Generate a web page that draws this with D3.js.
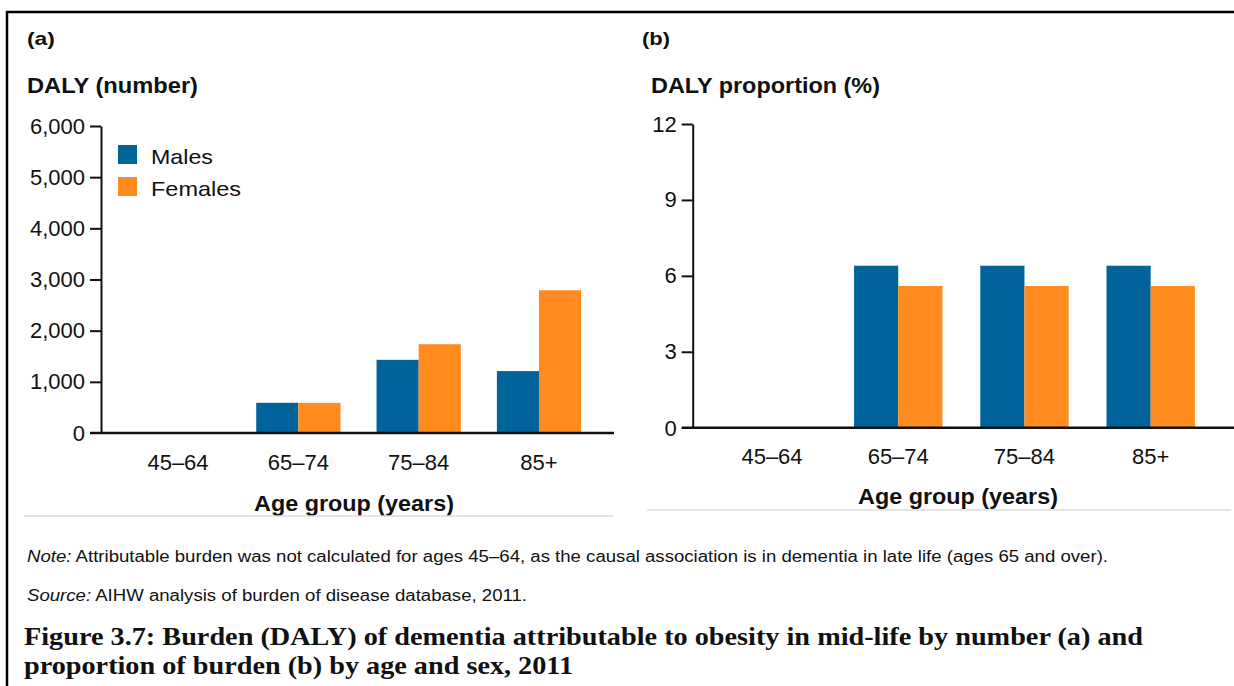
<!DOCTYPE html>
<html>
<head>
<meta charset="utf-8">
<script src="https://cdnjs.cloudflare.com/ajax/libs/d3/7.8.5/d3.min.js"></script>
<style>
  body { margin: 0; background: #fff; }
  text { font-family: "Liberation Sans", Arial, sans-serif; fill: #111; }
  .caption { font-family: "Liberation Serif", "Times New Roman", serif; font-weight: bold; }
</style>
</head>
<body>
<script>
// data
let ageGroups = ["45–64", "65–74", "75–84", "85+"];
let sexes = ["Males", "Females"];
let dalyMales = [0, 590, 1430, 1210];
let dalyFemales = [0, 590, 1735, 2790];
let propMales = [0, 6.4, 6.4, 6.4];
let propFemales = [0, 5.6, 5.6, 5.6];
let dalyTicks = [0, 1000, 2000, 3000, 4000, 5000, 6000];
let propTicks = [0, 3, 6, 9, 12];

let colors = {Males: "#00649a", Females: "#ff8b1e"};

let W = 1234, H = 686;

let svg = d3.select("body").append("svg")
    .attr("width", W)
    .attr("height", H);

// the source image is a bit wider than the fonts, so stretch some texts
function fit(sel, w) {
    sel.attr("textLength", w).attr("lengthAdjust", "spacingAndGlyphs");
    return sel;
}

// frame lines (top and left)
svg.append("line")
    .attr("x1", 6).attr("x2", W).attr("y1", 12).attr("y2", 12)
    .attr("stroke", "#000").attr("stroke-width", 2.5);
svg.append("line")
    .attr("x1", 7).attr("x2", 7).attr("y1", 11).attr("y2", H)
    .attr("stroke", "#000").attr("stroke-width", 2.5);

// draws one panel
function drawPanel(cfg) {
    let g = svg.append("g");

    let x = d3.scaleBand()
        .domain(ageGroups)
        .range(cfg.xRange)
        .paddingInner(0.3)
        .paddingOuter(0.15);
    let xSub = d3.scaleBand()
        .domain(sexes)
        .range([0, x.bandwidth()]);
    let y = d3.scaleLinear()
        .domain(cfg.yDomain)
        .range(cfg.yRange);

    let rows = ageGroups.map(function (a, i) {
        return {age: a, Males: cfg.males[i], Females: cfg.females[i]};
    });

    // bars
    g.selectAll(".grp")
        .data(rows)
        .enter().append("g")
        .attr("transform", d => "translate(" + x(d.age) + ",0)")
        .selectAll("rect")
        .data(d => sexes.map(s => ({sex: s, v: d[s]})))
        .enter().append("rect")
        .attr("x", d => xSub(d.sex))
        .attr("width", xSub.bandwidth())
        .attr("y", d => y(d.v))
        .attr("height", d => y(0) - y(d.v))
        .attr("fill", d => colors[d.sex]);

    // y axis
    let yAxis = g.append("g")
        .attr("transform", "translate(" + cfg.axisX + ",0)")
        .call(d3.axisLeft(y)
            .tickValues(cfg.ticks)
            .tickSize(11)
            .tickSizeOuter(0)
            .tickPadding(5)
            .tickFormat(cfg.fmt));
    yAxis.select(".domain").attr("stroke", "#111").attr("stroke-width", 2);
    yAxis.selectAll(".tick line").attr("stroke", "#111").attr("stroke-width", 2);
    yAxis.selectAll(".tick text")
        .style("font-size", "22px")
        .style("font-family", "Liberation Sans, Arial, sans-serif")
        .attr("fill", "#111");
    yAxis.selectAll(".tick").filter(d => d === 0).remove();

    // baseline
    g.append("line")
        .attr("x1", cfg.axisX - 11).attr("x2", cfg.baseEnd)
        .attr("y1", y(0)).attr("y2", y(0))
        .attr("stroke", "#111").attr("stroke-width", 2.5);
    g.append("text")
        .attr("x", cfg.axisX - 16)
        .attr("y", y(0) + 8)
        .attr("text-anchor", "end")
        .style("font-size", "22px")
        .text("0");

    // x labels
    g.selectAll(".xlab")
        .data(ageGroups)
        .enter().append("text")
        .attr("x", d => x(d) + x.bandwidth() / 2)
        .attr("y", cfg.xLabY)
        .attr("text-anchor", "middle")
        .style("font-size", "22px")
        .text(d => d);

    fit(g.append("text")
        .attr("x", cfg.xTitleX - 100)
        .attr("y", cfg.xTitleY)
        .style("font-size", "22px")
        .style("font-weight", "bold")
        .text("Age group (years)"), 200);

    // panel letter and y title
    fit(g.append("text")
        .attr("x", cfg.letterX).attr("y", 45)
        .style("font-size", "19px").style("font-weight", "bold")
        .text(cfg.letter), 28);
    fit(g.append("text")
        .attr("x", cfg.titleX).attr("y", 93)
        .style("font-size", "22px").style("font-weight", "bold")
        .text(cfg.title), cfg.titleW);

    // grey rule under panel
    g.append("line")
        .attr("x1", cfg.rule[0]).attr("x2", cfg.rule[1])
        .attr("y1", cfg.rule[2]).attr("y2", cfg.rule[2])
        .attr("stroke", "#ddd").attr("stroke-width", 1.5);

    return {x: x, y: y};
}

drawPanel({
    males: dalyMales, females: dalyFemales,
    xRange: [117.85, 599.15], yDomain: [0, 6000], yRange: [433, 126],
    axisX: 101, baseEnd: 614, ticks: dalyTicks, fmt: d3.format(","),
    xLabY: 470, xTitleX: 354, xTitleY: 511,
    letter: "(a)", letterX: 27, title: "DALY (number)", titleX: 27, titleW: 171,
    rule: [24, 613, 516]
});

drawPanel({
    males: propMales, females: propFemales,
    xRange: [708.9, 1213.8], yDomain: [0, 12], yRange: [427.7, 124],
    axisX: 692.7, baseEnd: 1234, ticks: propTicks, fmt: d3.format("d"),
    xLabY: 464, xTitleX: 958, xTitleY: 504,
    letter: "(b)", letterX: 642, title: "DALY proportion (%)", titleX: 651, titleW: 229,
    rule: [647, 1231, 510]
});

// legend
let legend = svg.append("g");
let legendW = {Males: 62, Females: 90};
sexes.forEach(function (s, i) {
    legend.append("rect")
        .attr("x", 118).attr("y", 145 + i * 32)
        .attr("width", 19).attr("height", 19)
        .attr("fill", colors[s]);
    fit(legend.append("text")
        .attr("x", 151).attr("y", 164 + i * 32)
        .style("font-size", "21px")
        .text(s), legendW[s]);
});

// notes
let note = fit(svg.append("text").attr("x", 27).attr("y", 562).style("font-size", "16px"), 1081);
note.append("tspan").style("font-style", "italic").text("Note:");
note.append("tspan").text(" Attributable burden was not calculated for ages 45–64, as the causal association is in dementia in late life (ages 65 and over).");

let src = fit(svg.append("text").attr("x", 27).attr("y", 601).style("font-size", "16px"), 500);
src.append("tspan").style("font-style", "italic").text("Source:");
src.append("tspan").text(" AIHW analysis of burden of disease database, 2011.");

// caption
let capLines = [
    "Figure 3.7: Burden (DALY) of dementia attributable to obesity in mid-life by number (a) and",
    "proportion of burden (b) by age and sex, 2011"
];
let capW = [1119, 549];
svg.selectAll(".caption")
    .data(capLines)
    .enter().append("text")
    .attr("class", "caption")
    .attr("x", 24)
    .attr("y", (d, i) => 645 + i * 29)
    .attr("textLength", (d, i) => capW[i])
    .attr("lengthAdjust", "spacingAndGlyphs")
    .style("font-size", "25px")
    .text(d => d);
</script>
</body>
</html>
